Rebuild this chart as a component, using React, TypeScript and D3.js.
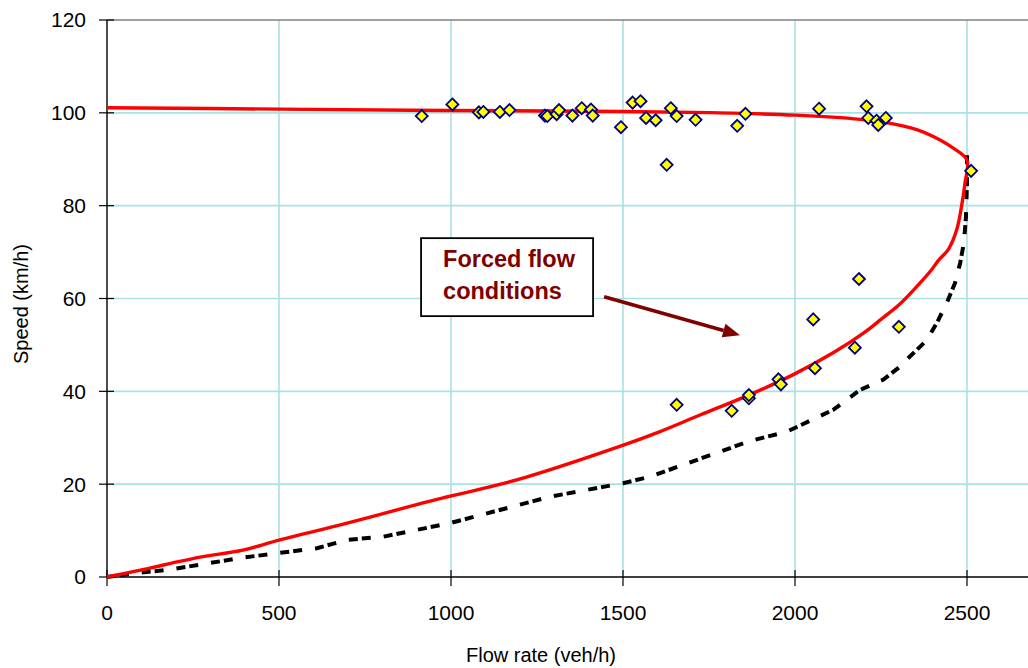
import React from "react";
import * as d3 from "d3";

const xTicks = [0, 500, 1000, 1500, 2000, 2500];
const yTicks = [0, 20, 40, 60, 80, 100, 120];

// speed-flow model curve (upper branch then forced-flow branch)
const modelFlow = [0, 500, 1000, 1500, 1780, 2000, 2190, 2266, 2354, 2402, 2460, 2500,
  2494, 2484, 2470, 2446, 2417, 2397, 2363, 2305, 2250, 2200, 2111, 1995, 1869, 1724, 1600, 1501, 1191, 997, 900, 800, 687, 503, 395, 279, 200, 125, 0];
const modelSpeed = [101.1, 100.8, 100.5, 100.3, 100.0, 99.5, 98.6, 97.9, 96.4, 94.9, 92.4, 89.8,
  84.8, 79.8, 74.8, 70.6, 68.2, 66.2, 63.3, 58.8, 55.5, 52.6, 48.3, 43.6, 39.3, 34.9, 31.1, 28.4, 20.9, 17.4, 15.6, 13.6, 11.4, 8.0, 5.8, 4.4, 3.2, 1.9, 0];

// dashed reference curve
const dashFlow = [0, 76, 173, 290, 387, 503, 610, 697, 804, 997, 1288, 1500, 1578, 1869, 1976, 2111, 2189, 2256, 2305, 2334, 2383, 2412, 2441, 2465, 2480, 2491, 2497, 2500, 2500];
const dashSpeed = [0, 0.8, 1.5, 2.9, 4.1, 5.2, 6.2, 8.0, 8.7, 11.6, 17.3, 20.2, 21.6, 29.3, 31.3, 36.0, 40.3, 42.5, 45.3, 47.5, 51.0, 54.7, 59.0, 63.3, 67.6, 72.0, 77.6, 85.0, 91.0];

// observed data
const obsFlow = [915, 1004, 1081, 1094, 1142, 1170, 1273, 1280, 1307, 1314, 1353, 1380, 1407, 1412, 1494, 1528, 1551, 1567, 1595, 1627, 1639, 1656, 1711,
  1832, 1856, 2070, 2208, 2213, 2237, 2242, 2264, 2512,
  1656, 1816, 1866, 1866, 1952, 1959, 2058, 2053, 2174, 2186, 2302];
const obsSpeed = [99.3, 101.8, 100.1, 100.2, 100.2, 100.6, 99.4, 99.3, 99.7, 100.6, 99.4, 101.0, 100.7, 99.4, 96.9, 102.2, 102.5, 98.9, 98.4, 88.8, 101.0, 99.3, 98.5,
  97.2, 99.8, 100.9, 101.4, 98.9, 98.3, 97.4, 98.9, 87.5,
  37.1, 35.8, 38.5, 39.2, 42.6, 41.5, 45.0, 55.5, 49.4, 64.2, 53.9];

// annotation (data units)
const noteBox = { x0: 913, x1: 1413, y0: 73.0, y1: 56.2 };
const noteLines = ["Forced flow", "conditions"];
const arrowFrom = [1445, 60.4];
const arrowTo = [1840, 52.1];

const W = 1028, H = 668;
const FONT = "'Liberation Sans', Arial, sans-serif";

export default function App() {
  const x = d3.scaleLinear().domain([0, 2700]).range([107, 107 + 2700 * 0.344]);
  const y = d3.scaleLinear().domain([0, 120]).range([577, 20]);
  const line = d3.line<[number, number]>().x(d => x(d[0])).y(d => y(d[1]));
  const smooth = d3.line<[number, number]>().x(d => x(d[0])).y(d => y(d[1])).curve(d3.curveCatmullRom.alpha(0.5));
  const model = modelFlow.map((f, i) => [f, modelSpeed[i]] as [number, number]);
  const dashed = dashFlow.map((f, i) => [f, dashSpeed[i]] as [number, number]);
  const diamond = (cx: number, cy: number, r: number) =>
    `M${cx},${cy - r}L${cx + r},${cy}L${cx},${cy + r}L${cx - r},${cy}Z`;

  const ax = x(arrowFrom[0]), ay = y(arrowFrom[1]);
  const bx = x(arrowTo[0]), by = y(arrowTo[1]);
  const ang = Math.atan2(by - ay, bx - ax);
  const hl = 17, hw = 7;
  const baseX = bx - hl * Math.cos(ang), baseY = by - hl * Math.sin(ang);
  const head = `M${bx},${by}L${baseX + hw * Math.sin(ang)},${baseY - hw * Math.cos(ang)}L${baseX - hw * Math.sin(ang)},${baseY + hw * Math.cos(ang)}Z`;

  const x0 = x.range()[0], x1 = W + 10;
  return (
    <svg width={W} height={H} style={{ position: "absolute", left: 0, top: 0, background: "#fff" }} fontFamily={FONT}>
      <rect x={0} y={0} width={W} height={H} fill="#fff" />
      {/* gridlines */}
      {xTicks.filter(t => t > 0).map(t => (
        <line key={"gx" + t} x1={x(t)} x2={x(t)} y1={y(0)} y2={y(120)} stroke="#A8E2E2" strokeWidth={1.6} />
      ))}
      {yTicks.filter(t => t > 0 && t < 120).map(t => (
        <line key={"gy" + t} x1={x0} x2={x1} y1={y(t)} y2={y(t)} stroke="#A8E2E2" strokeWidth={1.6} />
      ))}
      <line x1={x0} x2={x1} y1={y(120)} y2={y(120)} stroke="#808080" strokeWidth={1.6} />
      {/* axes */}
      <line x1={x0} x2={x0} y1={y(120)} y2={y(0)} stroke="#000" strokeWidth={1.4} />
      <line x1={x0} x2={x1} y1={y(0)} y2={y(0)} stroke="#000" strokeWidth={1.6} />
      {yTicks.map(t => (
        <g key={"ty" + t}>
          <line x1={x0 - 8} x2={x0 + 7} y1={y(t)} y2={y(t)} stroke="#000" strokeWidth={1.2} />
          <text x={86} y={y(t)} dy="0.35em" textAnchor="end" fontSize={21} fill="#000">{t}</text>
        </g>
      ))}
      {xTicks.map(t => (
        <g key={"tx" + t}>
          <line x1={x(t)} x2={x(t)} y1={y(0) - 7} y2={y(0) + 9} stroke="#000" strokeWidth={1.2} />
          <text x={x(t)} y={620} textAnchor="middle" fontSize={21} fill="#000">{t}</text>
        </g>
      ))}
      <text x={541} y={662} textAnchor="middle" fontSize={20} fill="#000">Flow rate (veh/h)</text>
      <text transform={`translate(28,304) rotate(-90)`} textAnchor="middle" fontSize={20} fill="#000">Speed (km/h)</text>

      {/* curves */}
      <path d={line(dashed) || ""} fill="none" stroke="#000" strokeWidth={4} strokeDasharray="9,4,9,13" />
      <path d={smooth(model) || ""} fill="none" stroke="#FF0000" strokeWidth={3.4} strokeLinejoin="round" />

      {/* observations */}
      {obsFlow.map((f, i) => (
        <path key={"o" + i} d={diamond(x(f), y(obsSpeed[i]), 6)} fill="#FFFF00" stroke="#000080" strokeWidth={1.8} />
      ))}

      {/* annotation */}
      <rect x={x(noteBox.x0)} y={y(noteBox.y0)} width={x(noteBox.x1) - x(noteBox.x0)} height={y(noteBox.y1) - y(noteBox.y0)}
        fill="#fff" stroke="#000" strokeWidth={1.8} />
      {noteLines.map((l, i) => (
        <text key={l} x={x(noteBox.x0) + 22} y={y(noteBox.y0) + 29 + i * 32} fontSize={23.5} fontWeight="bold" fill="#800000">{l}</text>
      ))}
      <line x1={ax} y1={ay} x2={baseX} y2={baseY} stroke="#800000" strokeWidth={3.6} />
      <path d={head} fill="#800000" />
    </svg>
  );
}
